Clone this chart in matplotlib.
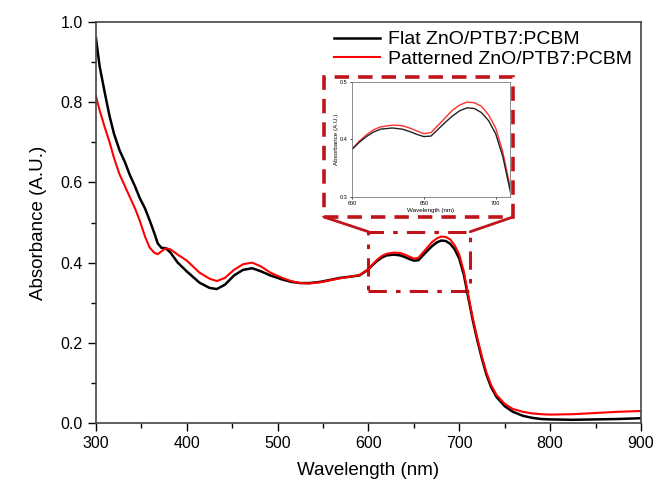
"""UV-vis absorbance of flat vs patterned ZnO/PTB7:PCBM films, with zoomed inset."""

import matplotlib
matplotlib.use("Agg")
import matplotlib.pyplot as plt
from matplotlib.patches import Rectangle, ConnectionPatch
from matplotlib.ticker import MultipleLocator

plt.rcParams.update({
    "font.family": ["Liberation Sans", "DejaVu Sans"],
    "font.size": 11.5,
})

wavelength = [300, 304, 310, 315, 320, 326, 332, 337, 343, 348, 354, 359, 364, 368,
              372, 377, 382, 390, 400, 414, 425, 433, 442, 452, 462, 472, 482, 492,
              505, 515, 525, 535, 547, 558, 569, 580, 590, 600, 605, 610, 615, 620,
              628, 635, 640, 645, 650, 655, 660, 665, 670, 675, 680, 685, 690, 695,
              700, 705, 710, 715, 720, 725, 730, 735, 741, 750, 759, 770, 780, 790,
              800, 825, 850, 875, 900]

abs_flat = [0.960, 0.890, 0.820, 0.765, 0.720, 0.680, 0.650, 0.620, 0.590, 0.562,
            0.535, 0.506, 0.475, 0.448, 0.437, 0.436, 0.425, 0.400, 0.378, 0.350,
            0.337, 0.334, 0.345, 0.368, 0.382, 0.386, 0.378, 0.368, 0.358, 0.352,
            0.349, 0.349, 0.352, 0.357, 0.362, 0.365, 0.368, 0.383, 0.395, 0.405,
            0.413, 0.418, 0.420, 0.418, 0.414, 0.409, 0.405, 0.406, 0.418, 0.430,
            0.441, 0.450, 0.455, 0.454, 0.447, 0.433, 0.410, 0.370, 0.312, 0.255,
            0.205, 0.160, 0.120, 0.090, 0.065, 0.042, 0.028, 0.018, 0.013, 0.010,
            0.009, 0.008, 0.009, 0.010, 0.012]

abs_patterned = [0.815, 0.780, 0.735, 0.700, 0.660, 0.620, 0.590, 0.565, 0.535, 0.506,
                 0.465, 0.438, 0.425, 0.421, 0.428, 0.436, 0.433, 0.420, 0.405, 0.375,
                 0.360, 0.354, 0.362, 0.382, 0.396, 0.400, 0.390, 0.375, 0.362, 0.354,
                 0.349, 0.348, 0.351, 0.356, 0.361, 0.365, 0.369, 0.383, 0.397, 0.408,
                 0.417, 0.422, 0.425, 0.424, 0.420, 0.415, 0.410, 0.412, 0.425, 0.438,
                 0.451, 0.460, 0.465, 0.464, 0.458, 0.443, 0.420, 0.378, 0.318, 0.260,
                 0.210, 0.165, 0.125, 0.095, 0.070, 0.048, 0.035, 0.028, 0.024, 0.022,
                 0.021, 0.022, 0.025, 0.028, 0.030]

zoom_x = (600, 712)
zoom_y = (0.33, 0.477)

BOX_RED = "#c0141c"

fig = plt.figure(figsize=(6.56, 4.86), dpi=100)
ax = fig.add_axes([0.1463, 0.1296, 0.8307, 0.8251])

ax.plot(wavelength, abs_flat, color="black", lw=1.8, label="Flat ZnO/PTB7:PCBM")
ax.plot(wavelength, abs_patterned, color="red", lw=1.5, label="Patterned ZnO/PTB7:PCBM")

ax.set_xlim(300, 900)
ax.set_ylim(0, 1.0)
ax.xaxis.set_major_locator(MultipleLocator(100))
ax.xaxis.set_minor_locator(MultipleLocator(50))
ax.yaxis.set_major_locator(MultipleLocator(0.2))
ax.yaxis.set_minor_locator(MultipleLocator(0.1))
ax.tick_params(which="major", length=6, width=1, direction="out")
ax.tick_params(which="minor", length=3.5, width=1, direction="out")
for sp in ax.spines.values():
    sp.set_color("#444444")
    sp.set_linewidth(1.2)
ax.set_xlabel("Wavelength (nm)", fontsize=13.5, labelpad=8)
ax.set_ylabel("Absorbance (A.U.)", fontsize=13.5, labelpad=10)

ax.legend(loc="upper right", frameon=False, fontsize=14, handlelength=2.4,
          handletextpad=0.4, labelspacing=0.1, borderaxespad=0.05)

# dash-dot rectangle marking zoomed region
rect = Rectangle((zoom_x[0], zoom_y[0]), zoom_x[1] - zoom_x[0], zoom_y[1] - zoom_y[0],
                 fill=False, edgecolor=BOX_RED, lw=2.2, linestyle=(0, (6, 3, 1.5, 3)))
ax.add_patch(rect)

# dashed frame around inset
box = (0.4939, 0.5535, 0.288, 0.288)
frame = Rectangle(box[:2], box[2], box[3], transform=fig.transFigure, fill=False,
                  edgecolor=BOX_RED, lw=2.6, linestyle=(0, (4, 2.5)))
fig.add_artist(frame)

for fx, dx in [(box[0], zoom_x[0]), (box[0] + box[2], zoom_x[1])]:
    con = ConnectionPatch(xyA=(fx, box[1]), coordsA=fig.transFigure,
                          xyB=(dx, zoom_y[1]), coordsB=ax.transData,
                          color=BOX_RED, lw=2.0)
    fig.add_artist(con)

# inset
axin = fig.add_axes([0.5366, 0.5947, 0.2409, 0.2366])
axin.plot(wavelength, abs_patterned, color="#ff3030", lw=1.0)
axin.plot(wavelength, abs_flat, color="#222222", lw=1.0)
axin.set_xlim(600, 710)
axin.set_ylim(0.3, 0.5)
axin.set_xticks([600, 650, 700])
axin.set_yticks([0.3, 0.4, 0.5])
axin.tick_params(labelsize=4, length=1.5, width=0.5, pad=1.5)
for sp in axin.spines.values():
    sp.set_color("#777777")
    sp.set_linewidth(0.6)
axin.set_xlabel("Wavelength (nm)", fontsize=4.5, labelpad=1)
axin.set_ylabel("Absorbance (A.U.)", fontsize=4.5, labelpad=1)

fig.savefig("out.png", dpi=100)
